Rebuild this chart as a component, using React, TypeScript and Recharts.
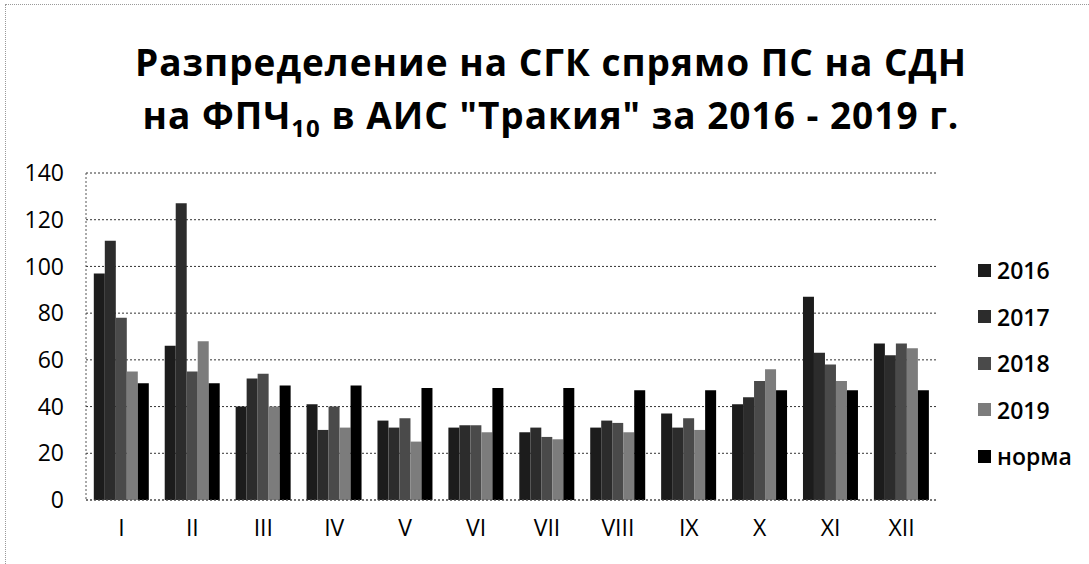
import React from "react";
import { BarChart, Bar, XAxis, YAxis, CartesianGrid } from "recharts";

const MONTHS = ["I", "II", "III", "IV", "V", "VI", "VII", "VIII", "IX", "X", "XI", "XII"];
const Y2016 = [97, 66, 40, 41, 34, 31, 29, 31, 37, 41, 87, 67];
const Y2017 = [111, 127, 52, 30, 31, 32, 31, 34, 31, 44, 63, 62];
const Y2018 = [78, 55, 54, 40, 35, 32, 27, 33, 35, 51, 58, 67];
const Y2019 = [55, 68, 40, 31, 25, 29, 26, 29, 30, 56, 51, 65];
const NORMA = [50, 50, 49, 49, 48, 48, 48, 47, 47, 47, 47, 47];
const Y_TICKS = [0, 20, 40, 60, 80, 100, 120, 140];

const SERIES = [
  { key: "y2016", name: "2016", color: "#1c1c1c" },
  { key: "y2017", name: "2017", color: "#2c2c2c" },
  { key: "y2018", name: "2018", color: "#4a4a4a" },
  { key: "y2019", name: "2019", color: "#7c7c7c" },
  { key: "norma", name: "норма", color: "#000000" },
];

const data = MONTHS.map((m, i) => ({
  month: m,
  y2016: Y2016[i],
  y2017: Y2017[i],
  y2018: Y2018[i],
  y2019: Y2019[i],
  norma: NORMA[i],
}));

const FONT = "'Open Sans', 'DejaVu Sans', sans-serif";

function LegendBox() {
  return (
    <div style={{ position: "absolute", left: 978, top: 247, fontFamily: FONT }}>
      {SERIES.map(s => (
        <div key={s.key} style={{ display: "flex", alignItems: "center", height: 46.5 }}>
          <span style={{ width: 13, height: 13, background: s.color, marginRight: 6 }} />
          <span style={{ fontSize: 23, fontWeight: 600, color: "#000" }}>{s.name}</span>
        </div>
      ))}
    </div>
  );
}

export default function App() {
  return (
    <div style={{ position: "absolute", left: 0, top: 0, width: 1089, height: 564, background: "#fff" }}>
      {/* dotted frame from the scan */}
      <div style={{ position: "absolute", left: 5, top: 4, right: 0, bottom: 0,
        borderTop: "1px dotted #999", borderLeft: "1px dotted #999" }} />

      {/* Title */}
      <div style={{ position: "absolute", left: 0, width: 1102, top: 0, textAlign: "center",
        fontFamily: FONT, fontWeight: 700, fontSize: 37, letterSpacing: 1, color: "#000", lineHeight: "53px" }}>
        <div style={{ marginTop: 35 }}>Разпределение на СГК спрямо ПС на СДН</div>
        <div>на ФПЧ<sub style={{ fontSize: 24, lineHeight: 0 }}>10</sub> в АИС "Тракия" за 2016 - 2019 г.</div>
      </div>

      <BarChart
        width={1089}
        height={564}
        data={data}
        margin={{ top: 173, right: 152, bottom: 0, left: 0 }}
        barGap={0}
        barCategoryGap="11%"
        style={{ position: "absolute", left: 0, top: 0 }}
      >
        <CartesianGrid vertical={false} stroke="#333" strokeDasharray="2 2" />
        <XAxis
          dataKey="month"
          height={64}
          tickLine={false}
          tickMargin={14}
          axisLine={{ stroke: "#555", strokeDasharray: "2 2" }}
          tick={{ fontSize: 23, fill: "#000", fontFamily: FONT }}
        />
        <YAxis
          width={86}
          domain={[0, 140]}
          ticks={Y_TICKS}
          tickLine={false}
          tickMargin={16}
          axisLine={{ stroke: "#555", strokeDasharray: "2 2" }}
          tick={{ fontSize: 23, fill: "#000", fontFamily: FONT }}
        />
        {SERIES.map(s => (
          <Bar key={s.key} dataKey={s.key} name={s.name} fill={s.color} isAnimationActive={false} />
        ))}
      </BarChart>
      <LegendBox />
    </div>
  );
}
